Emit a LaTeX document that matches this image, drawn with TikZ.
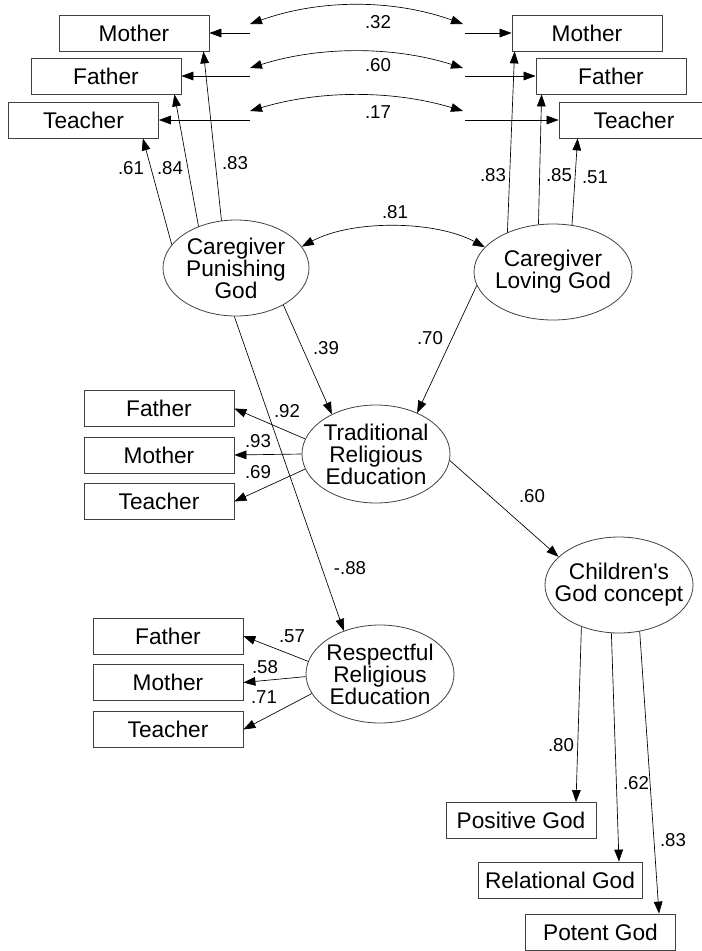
\documentclass[tikz,border=0pt]{standalone}
\usepackage{fontspec}
\setmainfont{Liberation Sans}
\usetikzlibrary{shapes.geometric,arrows.meta,calc}
\tikzstyle{obs}=[draw=black!75, line width=0.6pt, minimum width=112.5pt,
	minimum height=27pt, inner sep=0pt, font=\fontsize{17}{19}\selectfont]
\tikzstyle{latent}=[draw=black!75, ellipse, line width=0.6pt, inner xsep=-10pt,
	inner ysep=0pt, align=center, font=\fontsize{17}{16.5}\selectfont]
\tikzstyle{line}=[draw, line width=0.5pt, ->]
\tikzstyle{cov}=[draw, line width=0.5pt, <->]
\tikzstyle{coef}=[inner sep=0pt, font=\fontsize{14}{14}\selectfont]
\newcommand{\obsBox}[2]{node (#1) [obs] {#2}}
\newcommand{\latVar}[4]{node (#1) [latent, minimum width=#2, minimum height=#3] {#4}}

\begin{document}
\begin{tikzpicture}[x=0.75pt, y=-0.75pt, >={Triangle[length=9pt,width=6.5pt]}]
	\useasboundingbox (0,0) rectangle (702,951);

	% Caregiver indicators
	\path (134,33) \obsBox{mL}{Mother};
	\path (106,76) \obsBox{fL}{Father};
	\path (83.5,120) \obsBox{tL}{Teacher};
	\path (587,33) \obsBox{mR}{Mother};
	\path (611,76) \obsBox{fR}{Father};
	\path (634,120) \obsBox{tR}{Teacher};

	% Latent variables
	\path (236,268) \latVar{cpg}{109.5pt}{72pt}{Caregiver\\Punishing\\God};
	\path (553,272) \latVar{clg}{118.5pt}{72pt}{Caregiver\\Loving God};
	\path (376,454) \latVar{tre}{111pt}{73.5pt}{Traditional\\Religious\\Education};
	\path (380,674) \latVar{rre}{111pt}{73.5pt}{Respectful\\Religious\\Education};
	\path (619,585) \latVar{cgc}{111pt}{72pt}{Children\textquotesingle s\\God concept};

	% Education indicators
	\path (159,408.5) \obsBox{fT}{Father};
	\path (159,455) \obsBox{mT}{Mother};
	\path (159,501.5) \obsBox{tT}{Teacher};
	\path (168,636) \obsBox{fE}{Father};
	\path (168,682.5) \obsBox{mE}{Mother};
	\path (168,729.5) \obsBox{tE}{Teacher};

	% God concept indicators
	\path (521,820.5) \obsBox{pos}{Positive God};
	\path (560,880) node (rel) [obs, minimum width=123pt] {Relational God};
	\path (600.5,932) node (pot) [obs, minimum width=113pt] {Potent God};

	% Error covariances between the caregiver indicators
	\coordinate (cmL) at (250,33);  \coordinate (cmR) at (465,33);
	\coordinate (cfL) at (250,76);  \coordinate (cfR) at (465,76);
	\coordinate (ctL) at (250,120); \coordinate (ctR) at (465,120);
	\coordinate (amL) at (250,24);  \coordinate (amR) at (463,24);
	\coordinate (afL) at (250,68);  \coordinate (afR) at (463,68);
	\coordinate (atL) at (250,111); \coordinate (atR) at (463,111);
	\path [line] (cmL) -- (mL.east);
	\path [line] (cfL) -- (fL.east);
	\path [line] (ctL) -- (tL.east);
	\path [line] (cmR) -- (mR.west);
	\path [line] (cfR) -- (fR.west);
	\path [line] (ctR) -- (tR.west);
	\path [cov] (amL) .. controls +(70,-25) and +(-70,-25) .. (amR);
	\path [cov] (afL) .. controls +(70,-22) and +(-70,-22) .. (afR);
	\path [cov] (atL) .. controls +(70,-21) and +(-70,-21) .. (atR);
	\node (w1) [coef] at (378,22) {.32};
	\node (w2) [coef] at (378,65) {.60};
	\node (w3) [coef] at (378,112) {.17};

	% Loadings of the caregiver factors
	\path [line] (cpg.160) -- ($(tL.south east)+(-16,0)$);
	\path [line] (cpg.132) -- ($(fL.south east)+(-7,0)$);
	\path [line] (cpg.107) -- ($(mL.south east)+(-6,0)$);
	\path [line] (clg.139) -- ($(mR.south west)+(3,0)$);
	\path [line] (clg.107) -- ($(fR.south west)+(6,0)$);
	\path [line] (clg.68) -- ($(tR.south west)+(19,0)$);
	\node (w4) [coef] at (131,168) {.61};
	\node (w5) [coef] at (170,168) {.84};
	\node (w6) [coef] at (235,163) {.83};
	\node (w7) [coef] at (493,175) {.83};
	\node (w8) [coef] at (559,175) {.85};
	\node (w9) [coef] at (595,177) {.51};

	\path [cov] (cpg.18) .. controls +(50,-27) and +(-50,-27) .. (clg.160);
	\node (w10) [coef] at (395,212) {.81};

	% Structural paths
	\path [line] (cpg.-38) -- (tre.138);
	\path [line] (clg.190) -- (tre.45);
	\path [line] (cpg.-92) -- (rre.130);
	\path [line] (tre.-5) -- (cgc.155);
	\node (w11) [coef] at (326,348) {.39};
	\node (w12) [coef] at (430,338) {.70};
	\node (w13) [coef] at (350,568) {-.88};
	\node (w14) [coef] at (532,496) {.60};

	% Loadings of the education factors
	\path [line] (tre.168) -- (fT.east);
	\path [line] (tre.180) -- (mT.east);
	\path [line] (tre.192) -- (tT.east);
	\node (w15) [coef] at (287,411) {.92};
	\node (w16) [coef] at (258,441) {.93};
	\node (w17) [coef] at (258,472) {.69};
	\path [line] (rre.170) -- (fE.east);
	\path [line] (rre.182) -- (mE.east);
	\path [line] (rre.196) -- (tE.east);
	\node (w18) [coef] at (292,636) {.57};
	\node (w19) [coef] at (265,667) {.58};
	\node (w20) [coef] at (264,697) {.71};

	% Loadings of the God concept
	\path [line] (cgc.228) -- ($(pos.north)+(55,0)$);
	\path [line] (cgc.261) -- ($(rel.north)+(59,0)$);
	\path [line] (cgc.294) -- ($(pot.north)+(58.5,0)$);
	\node (w21) [coef] at (561,745) {.80};
	\node (w22) [coef] at (636,783) {.62};
	\node (w23) [coef] at (673,840) {.83};

\end{tikzpicture}
\end{document}
